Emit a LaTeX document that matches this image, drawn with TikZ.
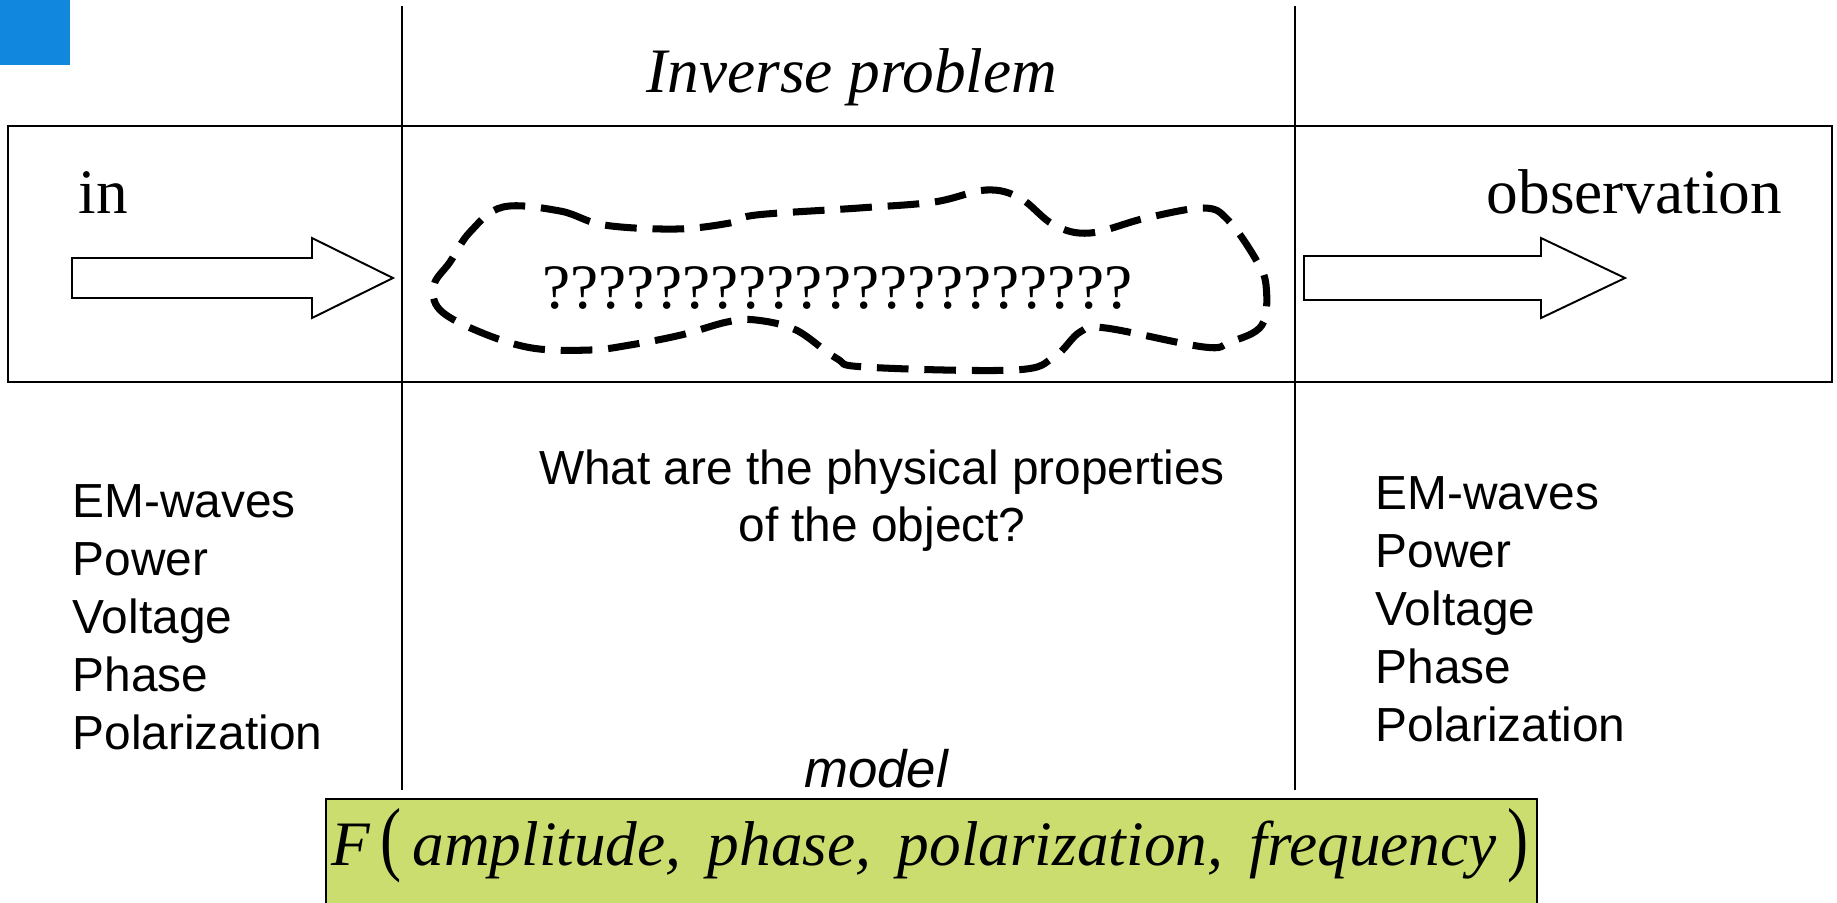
\documentclass[tikz,border=0pt]{standalone}
\usepackage{fontspec}
\setmainfont{Liberation Serif}
\setsansfont{Liberation Sans}
\usetikzlibrary{positioning}
\definecolor{slideblue}{RGB}{17,136,221}
\definecolor{modelgreen}{RGB}{204,221,112}
\newcommand{\serifsize}{\fontsize{18}{21}\selectfont}
\newcommand{\sanssize}{\fontsize{13.6}{16}\selectfont}
\newcommand{\bigparen}[1]{\scalebox{1}[1.3]{\upshape#1}}

\begin{document}
\begin{tikzpicture}[x=0.01cm, y=-0.01cm, line join=miter,
	frame/.style={draw=black, line width=0.6pt},
	blockarrow/.style={draw=black, fill=white, line width=0.55pt},
	blob/.style={draw=black, line width=2pt, dash pattern=on 9pt off 4.5pt},
	serif/.style={font=\serifsize, inner sep=0pt},
	sans/.style={font=\sffamily\sanssize, inner sep=0pt}]
	\def\W{1837} \def\H{902}
	\clip (0,0) rectangle (\W,\H);
	\fill[slideblue] (0,0) rectangle (70,65);
	% frame and column lines
	\draw[frame] (8,126) rectangle (1832,382);
	\draw[frame] (402,6) -- (402,790);
	\draw[frame] (1295,6) -- (1295,790);
	% block arrows
	\draw[blockarrow] (72,258) -- (312,258) -- (312,238) -- (393,278) -- (312,318) -- (312,298) -- (72,298) -- cycle;
	\draw[blockarrow] (1304,256) -- (1541,256) -- (1541,238) -- (1625,278) -- (1541,318) -- (1541,300) -- (1304,300) -- cycle;
	% unknown object
	\draw[blob] plot[smooth cycle, tension=0.6] coordinates {(503,207) (560,211) (604,225) (676,229) (730,223) (756,215) (859,208) (934,202) (986,190) (1020,198) (1054,225) (1090,233) (1146,218) (1204,208) (1228,220) (1255,258) (1266,285) (1262,325) (1230,342) (1204,347) (1106,328) (1080,332) (1054,357) (1014,370) (865,367) (836,358) (796,330) (756,320) (727,322) (681,335) (630,345) (590,350) (532,348) (480,332) (440,310) (434,285) (450,262) (470,232)};
	\node[serif, anchor=base] (unknown) at (837,308) {?????????????????????};
	% titles
	\node[serif, anchor=base, font=\serifsize\itshape] (title) at (852,92) {Inverse problem};
	\node[serif, anchor=base west] (in) at (78,213) {in};
	\node[serif, anchor=base west] (obs) at (1486,213) {observation};
	% quantities
	\foreach \q [count=\i] in {EM-waves,Power,Voltage,Phase,Polarization}{
		\node[sans, anchor=base west] (inq\i) at (72,517+58.2*\i-58.2) {\q};
		\node[sans, anchor=base west] (outq\i) at (1375,509+58*\i-58) {\q};
	}
	\node[sans, anchor=base] (ask1) at (882,484) {What are the physical properties};
	\node[sans, anchor=base] (ask2) at (882,541) {of the object?};
	% model
	\node[sans, anchor=base, font=\sffamily\fontsize{15}{18}\selectfont\itshape] (model) at (876,787) {model};
	\draw[frame, fill=modelgreen] (326,799) rectangle (1537,920);
	\node[serif, anchor=base] (formula) at (930,865) {\itshape F\,\bigparen{(}\,amplitude,\, phase,\, polarization,\, frequency\,\bigparen{)}};
\end{tikzpicture}
\end{document}
